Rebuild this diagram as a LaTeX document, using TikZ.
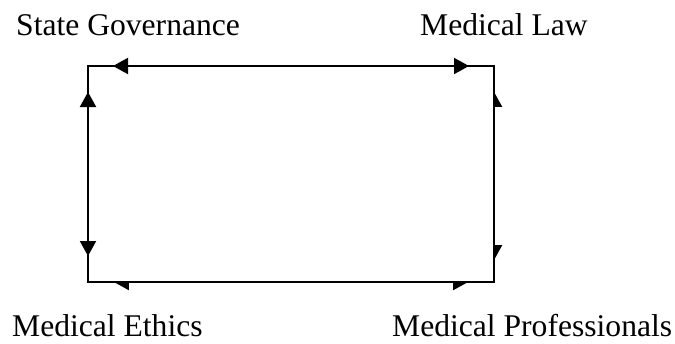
\documentclass[tikz,border=0pt]{standalone}
\usepackage{fontspec}
\setmainfont{Liberation Serif}
\usetikzlibrary{arrows.meta}
\tikzset{
  lbl/.style={anchor=base west, inner sep=0pt, font=\fontsize{31.6}{38}\selectfont},
  edge/.style={line width=2pt},
  tipfull/.style={line width=2pt, {Triangle[length=15pt,width=16pt]}-{Triangle[length=15pt,width=16pt]}},
}
\begin{document}
\begin{tikzpicture}[x=1pt,y=-1pt]
\useasboundingbox (0,0) rectangle (675,343);
\node[lbl] (sg) at (16,35) {State Governance};
\node[lbl] (ml) at (420,35) {Medical Law};
\node[lbl] (me) at (12,336) {Medical Ethics};
\node[lbl] (mp) at (392,336) {Medical Professionals};
\coordinate (tl) at (88,66);
\coordinate (tr) at (494,66);
\coordinate (bl) at (88,282);
\coordinate (br) at (494,282);
\draw[edge, line join=miter] (tl) -- (tr) -- (br) -- (bl) -- cycle;
% top
\coordinate (t1) at (113,66);
\coordinate (t2) at (469,66);
\draw[tipfull] (t1) -- (t2);
% left
\coordinate (l1) at (88,92);
\coordinate (l2) at (88,256);
\draw[tipfull] (l1) -- (l2);
% right (half heads on the right side)
\coordinate (r1) at (494,90);
\coordinate (r2) at (494,262);
\draw[line width=2pt, {Triangle[length=15pt,width=16pt,harpoon,swap]}-{Triangle[length=15pt,width=16pt,harpoon]}] (r1) -- (r2);
% bottom (half heads below)
\coordinate (b1) at (112,282);
\coordinate (b2) at (470,282);
\draw[line width=2pt, {Triangle[length=15pt,width=16pt,harpoon]}-{Triangle[length=15pt,width=16pt,harpoon,swap]}] (b1) -- (b2);
\end{tikzpicture}
\end{document}
